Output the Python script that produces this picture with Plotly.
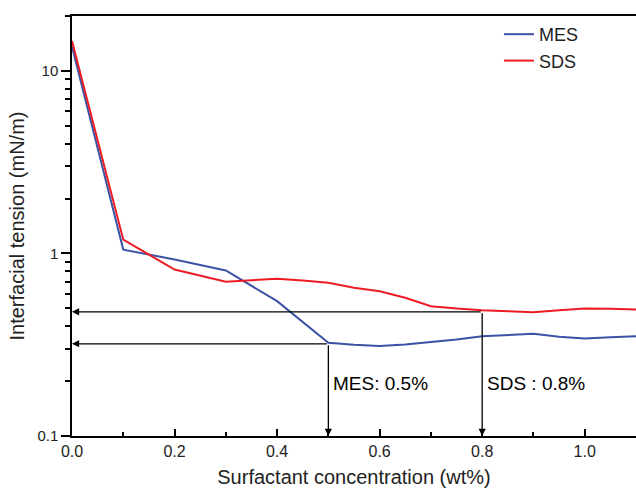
import numpy as np
import plotly.graph_objects as go

conc = [0.0, 0.1, 0.2, 0.3, 0.4, 0.5, 0.55, 0.6, 0.65, 0.7, 0.75, 0.8, 0.85, 0.9, 0.95, 1.0, 1.05, 1.1]
mes = [13.6, 1.05, 0.927, 0.807, 0.548, 0.324, 0.316, 0.311, 0.317, 0.327, 0.338, 0.352, 0.357, 0.363, 0.350, 0.342, 0.348, 0.352]

conc_sds = [0.0, 0.1, 0.2, 0.3, 0.35, 0.4, 0.45, 0.5, 0.55, 0.6, 0.65, 0.7, 0.75, 0.8, 0.85, 0.9, 0.95, 1.0, 1.05, 1.1]
sds = [14.6, 1.19, 0.817, 0.70, 0.714, 0.727, 0.711, 0.691, 0.649, 0.621, 0.572, 0.514, 0.50, 0.489, 0.483, 0.477, 0.489, 0.50, 0.498, 0.493]

# CMC markers: (concentration, tension, label)
cmc_points = [(0.5, 0.32, "MES: 0.5%"), (0.8, 0.479, "SDS : 0.8%")]

x_ticks = [0.0, 0.2, 0.4, 0.6, 0.8, 1.0]
y_ticks = [0.1, 1, 10]
y_ticktext = ["0.1", "1", "10"]
y_minor = [0.2, 0.3, 0.4, 0.5, 0.6, 0.7, 0.8, 0.9, 2, 3, 4, 5, 6, 7, 8, 9, 20]

FONT = "Arial, Liberation Sans, sans-serif"
BLUE = "#3a53a4"
RED = "#ed1c24"

fig = go.Figure()
fig.add_trace(go.Scatter(x=conc, y=mes, mode="lines", name="MES",
                         line=dict(color=BLUE, width=2)))
fig.add_trace(go.Scatter(x=conc_sds, y=sds, mode="lines", name="SDS",
                         line=dict(color=RED, width=2)))

annotations = []
for cx, cy, label in cmc_points:
    ly = np.log10(cy)
    annotations.append(dict(x=0, y=ly, ax=cx, ay=ly, xref="x", yref="y", axref="x", ayref="y",
                            showarrow=True, arrowhead=2, arrowsize=1.1, arrowwidth=1.3,
                            arrowcolor="black", text=""))
    annotations.append(dict(x=cx, y=-1, ax=cx, ay=ly, xref="x", yref="y", axref="x", ayref="y",
                            showarrow=True, arrowhead=2, arrowsize=1.1, arrowwidth=1.3,
                            arrowcolor="black", text=""))
    annotations.append(dict(x=cx + 0.006, y=-0.71, xref="x", yref="y", text=label,
                            showarrow=False, xanchor="left", yanchor="middle",
                            font=dict(family=FONT, size=19, color="black")))

fig.update_layout(
    width=636, height=488,
    margin=dict(l=72, r=0, t=16, b=52, autoexpand=False),
    plot_bgcolor="white", paper_bgcolor="white",
    font=dict(family=FONT, color="black"),
    showlegend=True,
    legend=dict(x=0.757, y=1.0, xanchor="left", yanchor="top",
                font=dict(family=FONT, size=18, color="#222222"),
                bgcolor="rgba(0,0,0,0)", tracegroupgap=0),
    annotations=annotations,
    xaxis=dict(range=[0, 1.1], tickvals=x_ticks, tickformat=".1f", automargin=False,
               showline=True, linecolor="black", linewidth=1.5, mirror=True,
               ticks="inside", ticklen=7, tickwidth=1.5, tickcolor="black",
               minor=dict(dtick=0.1, tick0=0, ticks="inside", ticklen=4, tickwidth=1.5, tickcolor="black"),
               showgrid=False, zeroline=False,
               tickfont=dict(family=FONT, size=16, color="#222222"),
               title=dict(text="Surfactant concentration (wt%)", standoff=14,
                          font=dict(family=FONT, size=20, color="#222222"))),
    yaxis=dict(type="log", range=[-1, np.log10(20)], tickvals=y_ticks, ticktext=y_ticktext,
               automargin=False,
               showline=True, linecolor="black", linewidth=1.5,
               ticks="outside", ticklen=9, tickwidth=1.5, tickcolor="black",
               minor=dict(tickvals=y_minor, ticks="outside", ticklen=5, tickwidth=1.5, tickcolor="black"),
               showgrid=False, zeroline=False,
               tickfont=dict(family=FONT, size=15, color="#222222"),
               title=dict(text="Interfacial tension (mN/m)", standoff=7,
                          font=dict(family=FONT, size=20, color="#222222"))),
)

fig.write_html("out.html", config={"displayModeBar": False},
               post_script="document.body.style.margin='0px';")
